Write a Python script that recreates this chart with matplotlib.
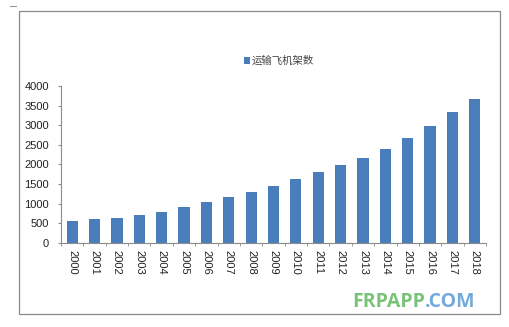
import matplotlib.pyplot as plt
from matplotlib.patches import Rectangle
from matplotlib.lines import Line2D
from matplotlib.ticker import FixedLocator

plt.rcParams['font.family'] = ['Liberation Sans', 'Noto Sans CJK SC', 'DejaVu Sans']

years = [str(y) for y in range(2000, 2019)]
planes = [554, 597, 638, 699, 791, 904, 1031, 1167, 1294, 1448,
          1634, 1797, 1975, 2170, 2400, 2681, 2979, 3329, 3661]
series_name = '运输飞机架数'
y_ticks = [0, 500, 1000, 1500, 2000, 2500, 3000, 3500, 4000]

bar_color = '#4a7ebb'
axis_color = '#8c8c8c'

fig = plt.figure(figsize=(5.1, 3.27), dpi=100)
ax = fig.add_axes([61 / 510, 1 - 242.7 / 327, 425 / 510, 156.7 / 327])

x = range(len(years))
ax.bar(x, planes, width=0.5, color=bar_color, label=series_name)

ax.set_xlim(-0.5, len(years) - 0.5)
ax.set_ylim(0, 4000)
ax.set_yticks(y_ticks)
ax.set_xticks(list(x))
ax.set_xticklabels(years, rotation=270, fontsize=8, color='#222222')
ax.tick_params(axis='x', which='major', length=0, pad=5)
ax.xaxis.set_minor_locator(FixedLocator([i + 0.5 for i in range(-1, len(years))]))
ax.tick_params(axis='x', which='minor', length=2.5, color=axis_color, direction='out')
ax.tick_params(axis='y', length=2.5, color=axis_color, labelsize=8, labelcolor='#222222', pad=6)

for side in ('top', 'right'):
    ax.spines[side].set_visible(False)
for side in ('left', 'bottom'):
    ax.spines[side].set_color(axis_color)
    ax.spines[side].set_linewidth(0.8)

fig.legend(loc='center', bbox_to_anchor=(279 / 510, 1 - 61 / 327), frameon=False,
           fontsize=7.5, handlelength=0.6, handleheight=0.6, handletextpad=0.2,
           labelcolor='#444444')

# outer chart frame and the small mark at its top-left corner
fig.patches.append(Rectangle((19 / 510, 1 - 314 / 327), 481 / 510, 303 / 327,
                             transform=fig.transFigure, fill=False,
                             edgecolor='#8a8a8a', linewidth=0.9))
fig.lines.append(Line2D([10 / 510, 16 / 510], [1 - 6 / 327, 1 - 6 / 327],
                        transform=fig.transFigure, color='#999999', linewidth=0.8))

# site watermark
t1 = fig.text(352 / 510, 1 - 302 / 327, 'FRPAPP', color='#79c27a', fontsize=14,
              family='Open Sans', weight='bold', va='center', ha='left')
fig.canvas.draw()
bb = t1.get_window_extent()
fig.text(bb.x1 / 510, 1 - 302 / 327, '.COM', color='#73a9dc', fontsize=14,
         family='Open Sans', weight='bold', va='center', ha='left')

fig.savefig('out.png', dpi=100)
